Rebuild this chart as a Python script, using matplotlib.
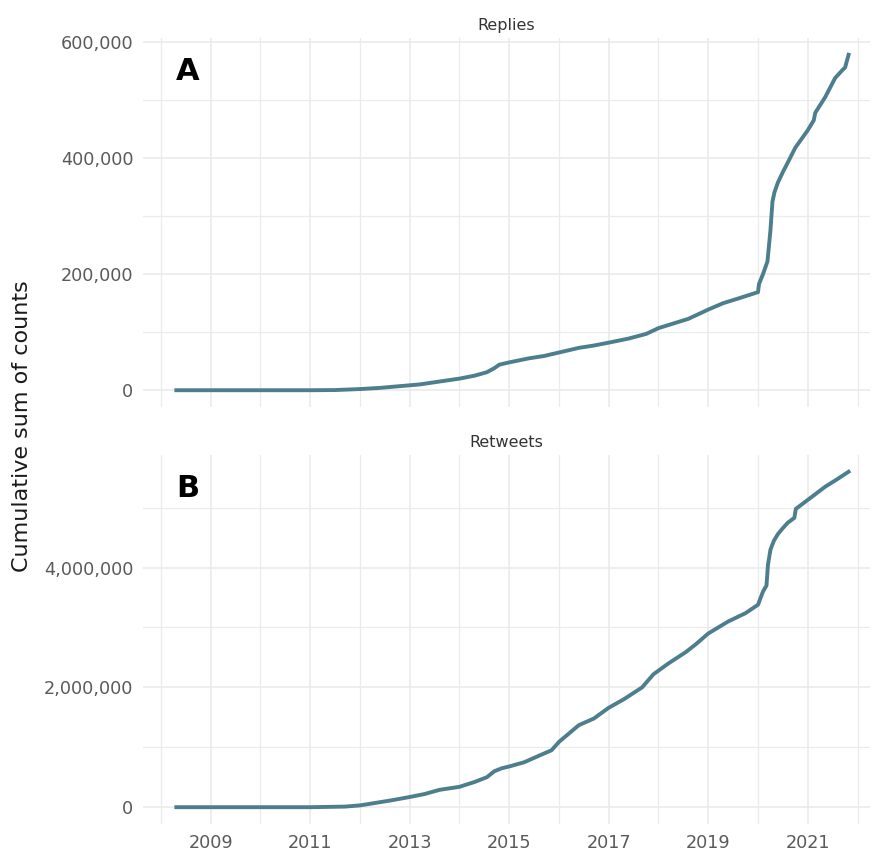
import matplotlib.pyplot as plt
import matplotlib.ticker as mticker
import numpy as np

# decimal year and cumulative counts (replies in thousands, retweets in millions)
reply_year = [2008.31, 2009.0, 2010.0, 2011.0, 2011.5, 2012.0, 2012.4, 2012.8,
              2013.2, 2013.6, 2014.0, 2014.3, 2014.55, 2014.7, 2014.8, 2015.0,
              2015.4, 2015.7, 2016.0, 2016.4, 2016.7, 2017.0, 2017.4, 2017.75,
              2018.0, 2018.3, 2018.6, 2019.0, 2019.3, 2019.6, 2020.0, 2020.02,
              2020.1, 2020.19, 2020.25, 2020.29, 2020.33, 2020.4, 2020.5,
              2020.62, 2020.75, 2021.0, 2021.12, 2021.15, 2021.35, 2021.55,
              2021.7, 2021.75, 2021.82]
replies_k = [0, 0, 0, 0, 0.3, 2, 4, 7,
             10, 15, 20, 25, 31, 38, 44, 48,
             55, 59, 65, 73, 77, 82, 89, 97,
             107, 115, 123, 139, 150, 158, 169, 183,
             200, 222, 276, 325, 341, 358, 376,
             396, 418, 448, 465, 478, 505, 538,
             552, 556, 578]

rt_year = [2008.31, 2009.0, 2010.0, 2011.0, 2011.7, 2012.0, 2012.3, 2012.6,
           2013.0, 2013.3, 2013.6, 2014.0, 2014.3, 2014.55, 2014.7, 2014.85,
           2015.0, 2015.3, 2015.6, 2015.85, 2016.0, 2016.4, 2016.7, 2017.0,
           2017.3, 2017.67, 2017.9, 2018.2, 2018.55, 2018.75, 2019.0, 2019.4,
           2019.75, 2020.0, 2020.1, 2020.17, 2020.2, 2020.25, 2020.32, 2020.4,
           2020.5, 2020.6, 2020.73, 2020.76, 2021.0, 2021.35, 2021.6, 2021.82]
retweets_m = [0, 0, 0, 0, 0.01, 0.03, 0.07, 0.11,
              0.17, 0.22, 0.29, 0.34, 0.42, 0.5, 0.6, 0.65,
              0.68, 0.75, 0.86, 0.95, 1.09, 1.37, 1.48, 1.66,
              1.8, 2.0, 2.22, 2.4, 2.59, 2.72, 2.9, 3.1,
              3.24, 3.38, 3.6, 3.7, 4.05, 4.3, 4.45, 4.56,
              4.66, 4.75, 4.83, 4.98, 5.13, 5.35, 5.48, 5.6]

panels = [
    ("Replies", "A", np.array(reply_year), np.array(replies_k) * 1e3,
     [0, 200000, 400000, 600000], [100000, 300000, 500000]),
    ("Retweets", "B", np.array(rt_year), np.array(retweets_m) * 1e6,
     [0, 2000000, 4000000], [1000000, 3000000, 5000000]),
]

line_col = "#4d7e8d"
grid_col = "#ebebeb"
txt_col = "#5a5a5a"

fig = plt.figure(figsize=(8.74, 8.52), dpi=100)
boxes = [[0.1636, 0.5223, 0.8318, 0.4331], [0.1636, 0.0329, 0.8318, 0.4331]]

for i, (title, tag, x, y, yt, ymin) in enumerate(panels):
    ax = fig.add_axes(boxes[i])
    ax.plot(x, y, color=line_col, lw=2.8, solid_joinstyle="round", zorder=3)

    pad = 0.05 * y.max()
    ax.set_ylim(-pad, y.max() + pad)
    ax.set_xlim(2007.64, 2022.25)

    ax.set_xticks([2009, 2011, 2013, 2015, 2017, 2019, 2021])
    ax.set_xticks([2008, 2010, 2012, 2014, 2016, 2018, 2020, 2022], minor=True)
    ax.set_yticks(yt)
    ax.set_yticks(ymin, minor=True)
    ax.yaxis.set_major_formatter(mticker.FuncFormatter(lambda v, p: f"{int(v):,}"))

    ax.grid(True, which="major", color=grid_col, lw=1.2, zorder=0)
    ax.grid(True, which="minor", color=grid_col, lw=0.9, zorder=0)
    ax.set_axisbelow(True)
    for s in ax.spines.values():
        s.set_visible(False)
    ax.tick_params(which="both", length=0, labelsize=12.7, labelcolor=txt_col)
    ax.tick_params(axis="y", pad=7)
    ax.tick_params(axis="x", pad=7)
    if i == 0:
        ax.tick_params(axis="x", labelbottom=False)

    ax.set_title(title, fontsize=11.5, color="#333333", pad=6)
    ax.text(x[0], 0.95 * y.max(), tag, fontsize=22, fontweight="bold",
            ha="left", va="center", color="black")

fig.text(0.025, 0.5, "Cumulative sum of counts", rotation=90, fontsize=16,
         ha="center", va="center", color="#1a1a1a")

fig.savefig("out.png", dpi=100)
